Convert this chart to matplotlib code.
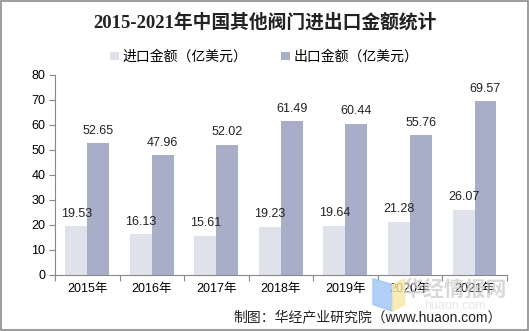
import matplotlib
matplotlib.use("Agg")
import matplotlib.pyplot as plt
import numpy as np
from matplotlib.patches import Rectangle, Polygon

plt.rcParams['font.family'] = ['Liberation Sans', 'Noto Sans CJK SC', 'DejaVu Sans']

# data
years = ['2015年', '2016年', '2017年', '2018年', '2019年', '2020年', '2021年']
imports = [19.53, 16.13, 15.61, 19.23, 19.64, 21.28, 26.07]
exports = [52.65, 47.96, 52.02, 61.49, 60.44, 55.76, 69.57]
labels = ['进口金额（亿美元）', '出口金额（亿美元）']
colors = ['#dfe2ea', '#a9aec8']

fig = plt.figure(figsize=(5.29, 3.31), dpi=100)
ax = fig.add_axes([0.104, 0.170, 0.854, 0.604])

x = np.arange(len(years))
w = 0.34
b1 = ax.bar(x - w / 2, imports, w, color=colors[0], label=labels[0])
b2 = ax.bar(x + w / 2, exports, w, color=colors[1], label=labels[1])

for bars, vals in ((b1, imports), (b2, exports)):
    for r, v in zip(bars, vals):
        ax.text(r.get_x() + r.get_width() / 2, v + 2.5, f'{v:.2f}',
                ha='center', va='bottom', fontsize=9, color='#222222')

ax.set_xlim(-0.5, len(years) - 0.5)
ax.set_ylim(0, 80)
ax.set_yticks(range(0, 81, 10))
ax.set_xticks(np.arange(-0.5, len(years), 1), minor=False)
ax.set_xticklabels([])
ax.set_xticks(x, minor=True)
ax.set_xticklabels(years, minor=True, fontsize=9)
ax.tick_params(axis='x', which='minor', length=0, pad=6)
ax.tick_params(axis='x', which='major', length=4, color='#888888')
ax.tick_params(axis='y', length=4, color='#888888', labelsize=9, pad=3)
for s in ['top', 'right']:
    ax.spines[s].set_visible(False)
for s in ['left', 'bottom']:
    ax.spines[s].set_color('#888888')

fig.text(0.5, 0.934, '2015-2021年中国其他阀门进出口金额统计', ha='center', va='center',
         fontsize=13.5, fontweight='bold', color='#222222',
         family=['Liberation Serif', 'Noto Sans CJK SC', 'DejaVu Sans'])

leg = fig.legend(handles=[b1, b2], labels=labels, loc='center', bbox_to_anchor=(0.5, 0.828),
                 ncol=2, frameon=False, fontsize=10, handlelength=0.6, handleheight=0.6,
                 handletextpad=0.3, columnspacing=2.4)

# watermark
fig.patches.append(Polygon([[0.705, 0.158], [0.742, 0.140], [0.742, 0.060], [0.705, 0.080]],
                           closed=True, transform=fig.transFigure, color='#9ec4f5', alpha=0.8))
fig.patches.append(Polygon([[0.742, 0.140], [0.765, 0.158], [0.765, 0.080], [0.742, 0.060]],
                           closed=True, transform=fig.transFigure, color='#f7e9a6', alpha=0.8))
fig.text(0.86, 0.125, '华经情报网', ha='center', va='center', fontsize=15, fontweight='bold',
         color='#c8c8c8', alpha=0.7, family=['Noto Sans CJK SC'])
fig.text(0.86, 0.075, 'huaon.com', ha='center', va='center', fontsize=9,
         color='#dddddd', alpha=0.7)

fig.text(0.949, 0.042, '制图：华经产业研究院（www.huaon.com）', ha='right', va='center',
         fontsize=10, color='#222222')

fig.patches.append(Rectangle((0.001, 0.002), 0.997, 0.995, transform=fig.transFigure,
                             fill=False, edgecolor='#8c8c8c', linewidth=1.2))

fig.savefig('out.png', dpi=100)
